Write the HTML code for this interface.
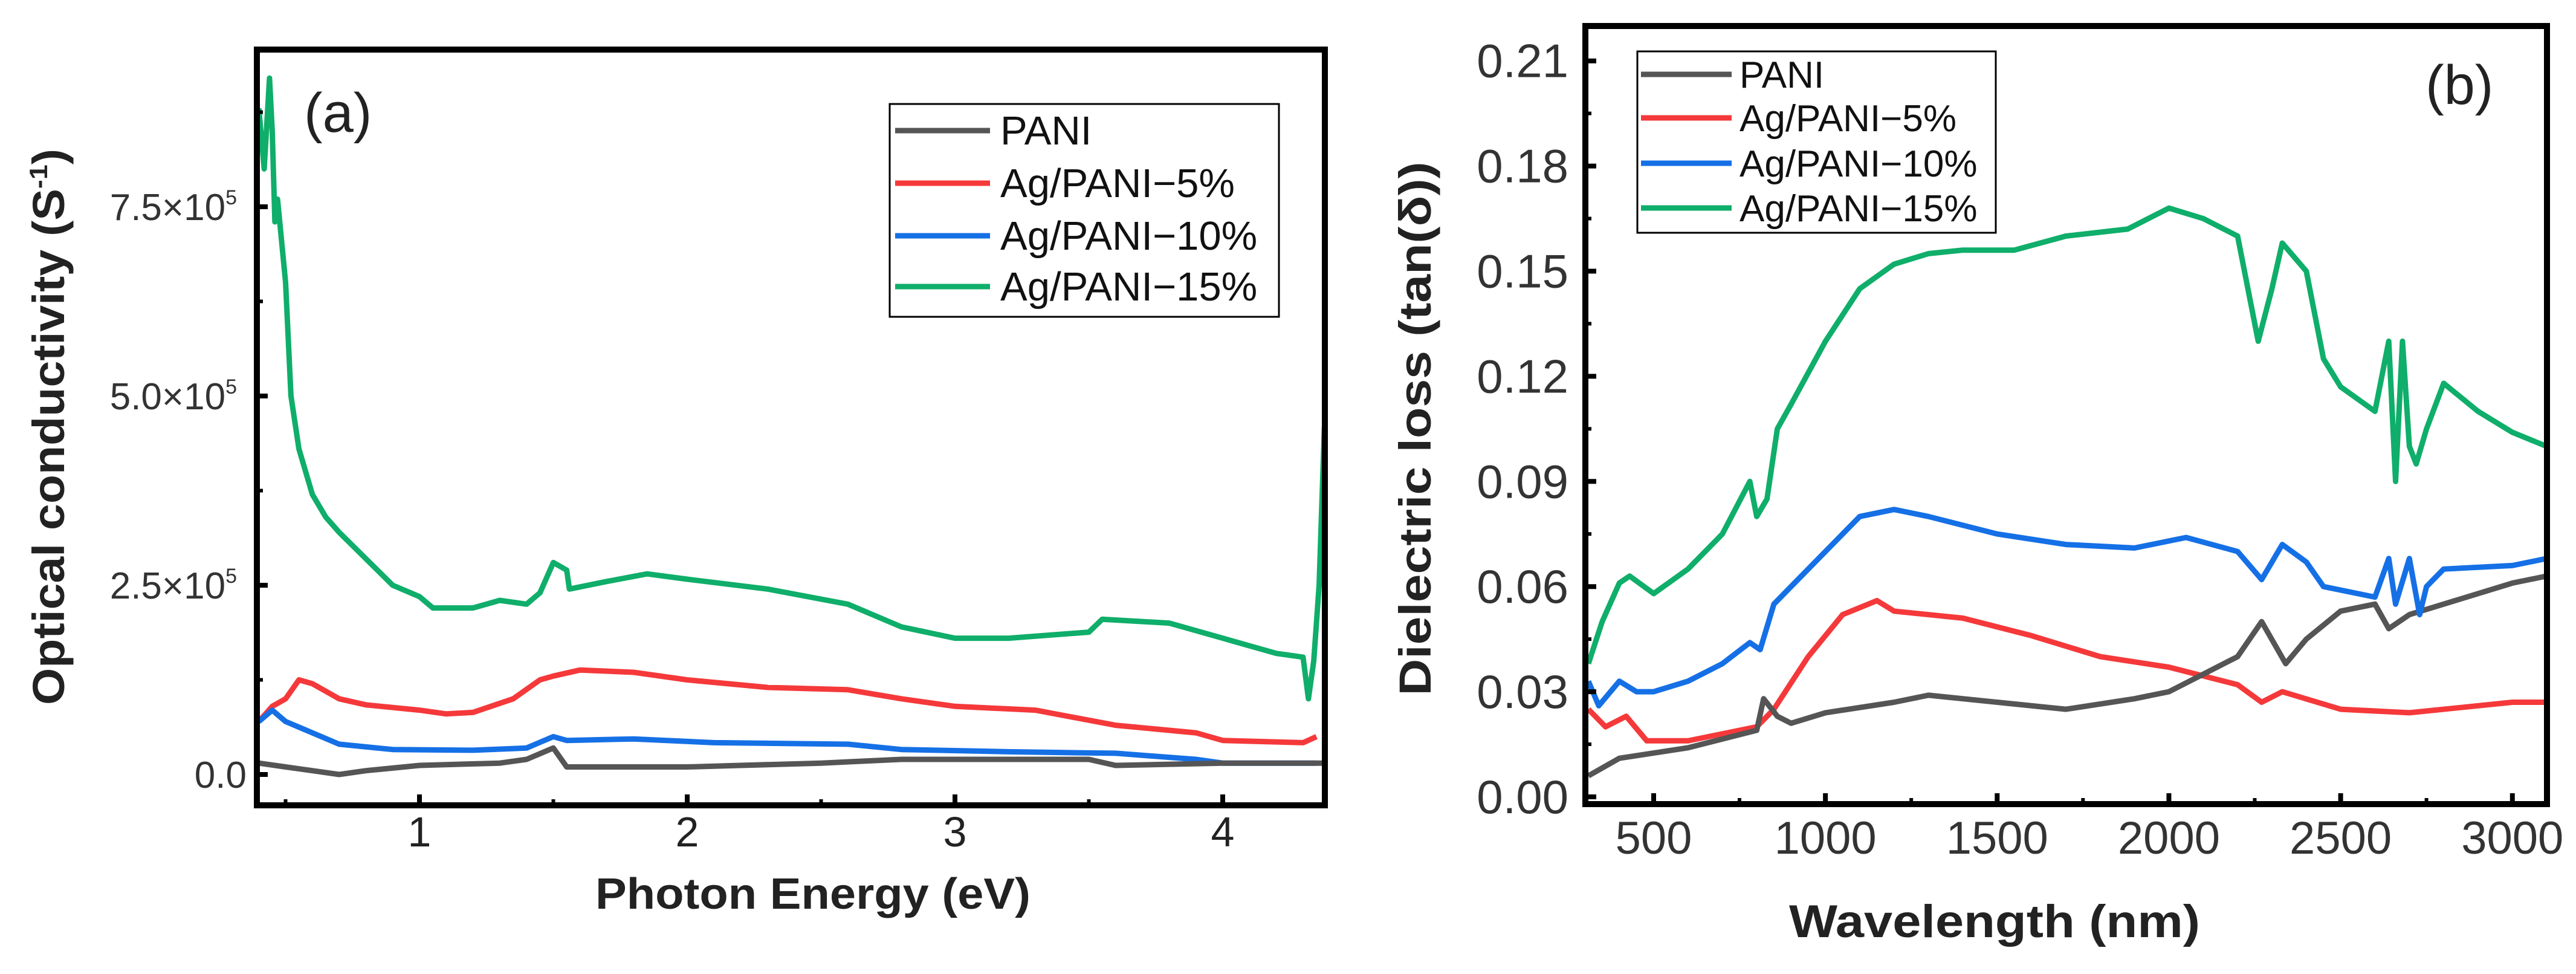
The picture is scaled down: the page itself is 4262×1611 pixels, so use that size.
<!DOCTYPE html>
<html><head><meta charset="utf-8"><style>
html,body{margin:0;padding:0;background:#fff;}
svg{display:block;font-family:"Liberation Sans",sans-serif;}
</style></head><body>
<svg id="fig" width="4262" height="1611" viewBox="0 0 4262 1611" xmlns="http://www.w3.org/2000/svg">
<rect x="0" y="0" width="4262" height="1611" fill="#fff"/>
<g id="pa"></g>
<g id="pb"></g>
</svg>
<script>
// ---------- Panel (a) data: photon energy (eV) vs conductivity (x1e5 S^-1)
const aTicksX = [1, 2, 3, 4];
const aTicksY = [0, 2.5, 5.0, 7.5];
const aTickLabelsY = ["0.0", "2.5×10", "5.0×10", "7.5×10"];
const aPaniX = [0.4,0.5,0.6,0.7,0.8,1.0,1.3,1.4,1.5,1.55,2.0,2.5,2.8,3.2,3.5,3.6,4.0,4.3,4.38];
const aPaniY = [0.15,0.1,0.05,0.0,0.05,0.12,0.15,0.2,0.35,0.1,0.1,0.15,0.2,0.2,0.2,0.12,0.15,0.15,0.15];
const a5X = [0.4,0.45,0.5,0.55,0.6,0.7,0.8,1.0,1.1,1.2,1.35,1.45,1.5,1.6,1.8,2.0,2.3,2.6,2.8,3.0,3.3,3.6,3.9,4.0,4.3,4.35];
const a5Y = [0.7,0.9,1.0,1.25,1.2,1.0,0.92,0.85,0.8,0.82,1.0,1.25,1.3,1.38,1.35,1.25,1.15,1.12,1.0,0.9,0.85,0.65,0.55,0.45,0.42,0.5];
const a10X = [0.4,0.45,0.5,0.6,0.7,0.9,1.2,1.4,1.5,1.55,1.8,2.1,2.6,2.8,3.2,3.6,3.9,4.0,4.35];
const a10Y = [0.7,0.85,0.7,0.55,0.4,0.33,0.32,0.35,0.5,0.45,0.47,0.42,0.4,0.33,0.3,0.28,0.2,0.15,0.15];
const a15X = [0.4,0.42,0.44,0.45,0.46,0.47,0.5,0.52,0.55,0.6,0.65,0.7,0.8,0.9,1.0,1.05,1.2,1.3,1.4,1.45,1.5,1.55,1.56,1.7,1.85,2.0,2.3,2.6,2.8,3.0,3.2,3.5,3.55,3.8,4.0,4.2,4.3,4.32,4.34,4.36,4.38];
const a15Y = [8.8,8.0,9.2,8.5,7.3,7.6,6.5,5.0,4.3,3.7,3.4,3.2,2.85,2.5,2.35,2.2,2.2,2.3,2.25,2.4,2.8,2.7,2.45,2.55,2.65,2.58,2.45,2.25,1.95,1.8,1.8,1.88,2.05,2.0,1.8,1.6,1.55,1.0,1.5,2.5,4.6];

// ---------- Panel (b) data: wavelength (nm) vs tan(delta)
const bTicksX = [500,1000,1500,2000,2500,3000];
const bTicksY = [0,0.03,0.06,0.09,0.12,0.15,0.18,0.21];
const bPaniX = [310,400,600,800,820,860,900,1000,1200,1300,1500,1700,1900,2000,2100,2200,2270,2340,2400,2500,2600,2640,2700,2800,3000,3100];
const bPaniY = [0.006,0.011,0.014,0.019,0.028,0.023,0.021,0.024,0.027,0.029,0.027,0.025,0.028,0.03,0.035,0.04,0.05,0.038,0.045,0.053,0.055,0.048,0.052,0.055,0.061,0.063];
const b5X = [310,360,420,480,600,800,850,950,1050,1150,1200,1400,1600,1800,2000,2200,2270,2330,2500,2700,3000,3100];
const b5Y = [0.025,0.02,0.023,0.016,0.016,0.02,0.025,0.04,0.052,0.056,0.053,0.051,0.046,0.04,0.037,0.032,0.027,0.03,0.025,0.024,0.027,0.027];
const b10X = [310,340,400,450,500,600,700,780,810,850,900,1000,1100,1200,1300,1500,1700,1900,2050,2200,2270,2330,2400,2450,2600,2640,2660,2700,2730,2750,2800,3000,3100];
const b10Y = [0.033,0.026,0.033,0.03,0.03,0.033,0.038,0.044,0.042,0.055,0.06,0.07,0.08,0.082,0.08,0.075,0.072,0.071,0.074,0.07,0.062,0.072,0.067,0.06,0.057,0.068,0.055,0.068,0.052,0.06,0.065,0.066,0.068];
const b15X = [310,350,400,430,500,600,700,780,800,830,860,900,1000,1100,1200,1300,1400,1550,1700,1880,2000,2100,2200,2260,2300,2330,2400,2450,2500,2600,2640,2660,2680,2700,2720,2750,2800,2900,3000,3100];
const b15Y = [0.038,0.05,0.061,0.063,0.058,0.065,0.075,0.09,0.08,0.085,0.105,0.112,0.13,0.145,0.152,0.155,0.156,0.156,0.16,0.162,0.168,0.165,0.16,0.13,0.145,0.158,0.15,0.125,0.117,0.11,0.13,0.09,0.13,0.1,0.095,0.105,0.118,0.11,0.104,0.1];

const NS = "http://www.w3.org/2000/svg";
const COLORS = {pani:"#555555", p5:"#f5393a", p10:"#1570e6", p15:"#0fae6a"};

function mk(parent, tag, attrs, text){
  const e = document.createElementNS(NS, tag);
  for (const k in attrs) e.setAttribute(k, attrs[k]);
  if (text !== undefined) e.textContent = text;
  parent.appendChild(e);
  return e;
}

// ---------- Panel (a)
const pa = document.getElementById('pa');
const aL=425, aR=2192, aT=82, aB=1332;
const ax = v => 251 + (v) * 443;
const ay = v => 1281 - v * 125.2;
const aClip = mk(pa,'clipPath',{id:'clipA'});
mk(aClip,'rect',{x:aL,y:aT,width:aR-aL,height:aB-aT});

function drawSeries(parent, xs, ys, fx, fy, color, name, clip){
  const d = xs.map((x,i)=> (i?'L':'M') + fx(x).toFixed(1) + ' ' + fy(ys[i]).toFixed(1)).join(' ');
  const p = mk(parent,'path',{d:d, fill:'none', stroke:color, 'stroke-width':9, 'stroke-linejoin':'round', 'clip-path':'url(#'+clip+')'});
  
  
}
drawSeries(pa, a15X, a15Y, ax, ay, COLORS.p15, 'series-ag-pani-15', 'clipA');
drawSeries(pa, a5X, a5Y, ax, ay, COLORS.p5, 'series-ag-pani-5', 'clipA');
drawSeries(pa, a10X, a10Y, ax, ay, COLORS.p10, 'series-ag-pani-10', 'clipA');
drawSeries(pa, aPaniX, aPaniY, ax, ay, COLORS.pani, 'series-pani', 'clipA');

const fa = mk(pa,'rect',{x:aL,y:aT,width:aR-aL,height:aB-aT,fill:'none',stroke:'#000','stroke-width':10});


aTicksX.forEach(v=>{
  const x = ax(v);
  mk(pa,'line',{x1:x,y1:aB,x2:x,y2:aB-18,stroke:'#000','stroke-width':8});
  if (x+221.5 < aR) mk(pa,'line',{x1:x+221.5,y1:aB,x2:x+221.5,y2:aB-10,stroke:'#000','stroke-width':6});
  const t = mk(pa,'text',{x:x,y:1400,'font-size':70,'text-anchor':'middle',fill:'#222'}, String(v));
  
  
});
mk(pa,'line',{x1:ax(0.5),y1:aB,x2:ax(0.5),y2:aB-10,stroke:'#000','stroke-width':6});
aTicksY.forEach((v,i)=>{
  const y = ay(v);
  mk(pa,'line',{x1:aL,y1:y,x2:aL+18,y2:y,stroke:'#000','stroke-width':8});
  mk(pa,'line',{x1:aL,y1:y-156.5,x2:aL+10,y2:y-156.5,stroke:'#000','stroke-width':6});
  const t = mk(pa,'text',{x:i?392:408,y:y+22,'font-size':62,'text-anchor':'end',fill:'#333'}, aTickLabelsY[i]);
  if(i){ mk(t,'tspan',{'font-size':34,dy:-26},'5'); }
  
  
});
let t;
t = mk(pa,'text',{x:1345,y:1503,'font-size':72,'font-weight':'bold','text-anchor':'middle',fill:'#222',textLength:720,lengthAdjust:'spacingAndGlyphs'},'Photon Energy (eV)');
 
t = mk(pa,'text',{x:0,y:0,'font-size':74,'font-weight':'bold','text-anchor':'middle',fill:'#222',transform:'translate(106,706) rotate(-90)',textLength:920,lengthAdjust:'spacingAndGlyphs'},'Optical conductivity (S');
mk(t,'tspan',{'font-size':42,dy:-28},'-1');
mk(t,'tspan',{dy:28},')');
 
t = mk(pa,'text',{x:503,y:218,'font-size':92,fill:'#222'},'(a)');
 

const legNames = ['PANI','Ag/PANI\u22125%','Ag/PANI\u221210%','Ag/PANI\u221215%'];
const legColors = [COLORS.pani, COLORS.p5, COLORS.p10, COLORS.p15];
const lga = mk(pa,'g',{});
 
mk(lga,'rect',{x:1472,y:172,width:644,height:352,fill:'#fff',stroke:'#000','stroke-width':3});
[216,303,390,474].forEach((y,i)=>{
  const g = mk(lga,'g',{});
   
  mk(g,'line',{x1:1481,y1:y,x2:1638,y2:y,stroke:legColors[i],'stroke-width':9});
  mk(g,'text',{x:1655,y:y+23,'font-size':67,fill:'#111'},legNames[i]);
});

// ---------- Panel (b)
const pb = document.getElementById('pb');
const bL=2623, bR=4214, bT=43, bB=1330;
const bx = v => 2736 + (v-500) * 0.5683;
const by = v => 1318 - v * 5796.7;
const bClip = mk(pb,'clipPath',{id:'clipB'});
mk(bClip,'rect',{x:bL,y:bT,width:bR-bL,height:bB-bT});
drawSeries(pb, b15X, b15Y, bx, by, COLORS.p15, 'series-ag-pani-15-b', 'clipB');
drawSeries(pb, b5X, b5Y, bx, by, COLORS.p5, 'series-ag-pani-5-b', 'clipB');
drawSeries(pb, bPaniX, bPaniY, bx, by, COLORS.pani, 'series-pani-b', 'clipB');
drawSeries(pb, b10X, b10Y, bx, by, COLORS.p10, 'series-ag-pani-10-b', 'clipB');

const lgb = mk(pb,'g',{});
 
mk(lgb,'rect',{x:2654,y:46,width:673,height:360,fill:'#fff'});
mk(lgb,'rect',{x:2709,y:85,width:593,height:300,fill:'#fff',stroke:'#000','stroke-width':3});
[123,195,270,344].forEach((y,i)=>{
  const g = mk(lgb,'g',{});
   
  mk(g,'line',{x1:2715,y1:y,x2:2865,y2:y,stroke:legColors[i],'stroke-width':9});
  mk(g,'text',{x:2878,y:y+22,'font-size':62,fill:'#111'},legNames[i]);
});

const fb = mk(pb,'rect',{x:bL,y:bT,width:bR-bL,height:bB-bT,fill:'none',stroke:'#000','stroke-width':10});
 
bTicksX.forEach(v=>{
  const x = bx(v);
  mk(pb,'line',{x1:x,y1:bB,x2:x,y2:bB-18,stroke:'#000','stroke-width':8});
  if (x+142 < bR) mk(pb,'line',{x1:x+142,y1:bB,x2:x+142,y2:bB-10,stroke:'#000','stroke-width':6});
  const tt = mk(pb,'text',{x:x,y:1412,'font-size':76,'text-anchor':'middle',fill:'#333'}, String(v));
   
});
bTicksY.forEach(v=>{
  const y = by(v);
  mk(pb,'line',{x1:bL,y1:y,x2:bL+18,y2:y,stroke:'#000','stroke-width':8});
  if (v < 0.2) mk(pb,'line',{x1:bL,y1:y-87,x2:bL+10,y2:y-87,stroke:'#000','stroke-width':6});
  const tt = mk(pb,'text',{x:2595,y:y+27,'font-size':78,'text-anchor':'end',fill:'#333'}, v.toFixed(2));
   
});
t = mk(pb,'text',{x:3300,y:1550,'font-size':76,'font-weight':'bold','text-anchor':'middle',fill:'#222',textLength:680,lengthAdjust:'spacingAndGlyphs'},'Wavelength (nm)');
 
t = mk(pb,'text',{x:0,y:0,'font-size':74,'font-weight':'bold','text-anchor':'middle',fill:'#222',transform:'translate(2367,709) rotate(-90)',textLength:883,lengthAdjust:'spacingAndGlyphs'},'Dielectric loss (tan(\u03B4))');
 
t = mk(pb,'text',{x:4013,y:172,'font-size':92,fill:'#222'},'(b)');
 
</script>
</body></html>
